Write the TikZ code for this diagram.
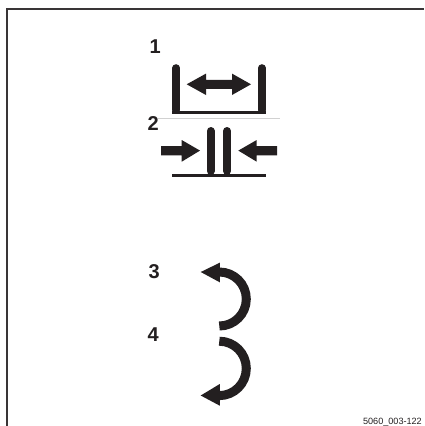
\documentclass[tikz,border=0pt]{standalone}
\usepackage{fontspec}
\setmainfont{Liberation Sans}
\definecolor{ink}{HTML}{231F20}
\tikzset{
  numlabel/.style={font=\bfseries\fontsize{20}{20}\selectfont,text=ink,inner sep=0pt,anchor=base west},
  wall/.style={draw=ink,line width=7.6pt,line cap=round},
  curve/.style={draw=ink,line width=9pt}
}
\begin{document}
\begin{tikzpicture}[x=1pt,y=-1pt]
\useasboundingbox (0,0) rectangle (424,426);
\fill[white] (0,0) rectangle (424,426);
% frame
\draw[draw=ink!90,line width=2pt] (7.3,426) -- (7.3,8.5) -- (424,8.5);
% labels
\node[numlabel] (n1) at (149.5,53) {1};
\node[numlabel] (n2) at (147.5,130) {2};
\node[numlabel] (n3) at (148.5,278.5) {3};
\node[numlabel] (n4) at (147.5,341) {4};
\node[font=\fontsize{9.1}{9.1}\selectfont,text=ink,inner sep=0pt,anchor=base east] (code) at (422,424.5) {5060\_003-122};
% separator
\draw[black!18,line width=0.6pt] (158,118.3) -- (280,118.3);
% U-channel
\draw[wall] (176.2,68) -- (176.2,110);
\draw[wall] (261.8,68) -- (261.8,110);
\fill[ink] (172.4,110.6) rectangle (265.6,114);
% double arrow
\fill[ink] (186.7,84.3) -- (206,73.6) -- (206,79.8) -- (232,79.8) -- (232,73.6) -- (251,84.3) -- (232,95) -- (232,88.8) -- (206,88.8) -- (206,95) -- cycle;
% closed bars
\draw[wall,line width=8pt] (210.7,131) -- (210.7,171);
\draw[wall,line width=8pt] (227,131) -- (227,171);
\fill[ink] (172.3,173.7) rectangle (266,177.3);
% inward arrows
\fill[ink] (161,146) -- (181.7,146) -- (181.7,140) -- (200,150.6) -- (181.7,161.7) -- (181.7,155.3) -- (161,155.3) -- cycle;
\fill[ink] (277,146) -- (256.7,146) -- (256.7,140) -- (238.3,150.6) -- (256.7,161.7) -- (256.7,155.3) -- (277,155.3) -- cycle;
% curved arrows
\draw[curve] (219.3,272) arc[start angle=90,end angle=-90,x radius=27,y radius=-27];
\fill[ink] (200.7,272) -- (219.8,262.7) -- (219.8,282.3) -- cycle;
\draw[curve] (219.3,341.2) arc[start angle=-90,end angle=90,x radius=27,y radius=27.2];
\fill[ink] (200.7,395.5) -- (219.8,384) -- (219.8,405.7) -- cycle;
\end{tikzpicture}
\end{document}
